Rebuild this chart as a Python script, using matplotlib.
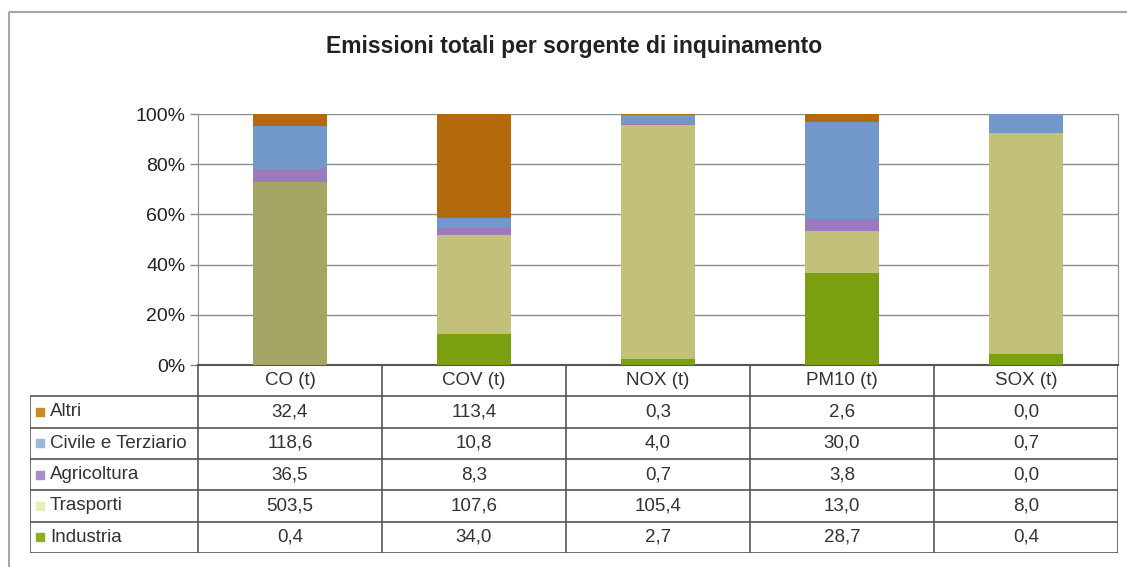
import numpy as np
import matplotlib.pyplot as plt
from matplotlib.patches import Rectangle

plt.rcParams["font.family"] = ["Liberation Sans", "DejaVu Sans"]

categories = ["CO (t)", "COV (t)", "NOX (t)", "PM10 (t)", "SOX (t)"]
# row order as in the table (top to bottom)
sources = ["Altri", "Civile e Terziario", "Agricoltura", "Trasporti", "Industria"]
altri = [32.4, 113.4, 0.3, 2.6, 0.0]
civile = [118.6, 10.8, 4.0, 30.0, 0.7]
agricoltura = [36.5, 8.3, 0.7, 3.8, 0.0]
trasporti = [503.5, 107.6, 105.4, 13.0, 8.0]
industria = [0.4, 34.0, 2.7, 28.7, 0.4]

colors = {
    "Altri": "#b36a0c",
    "Civile e Terziario": "#7198c8",
    "Agricoltura": "#9b7bbe",
    "Trasporti": "#c3c07a",
    "Industria": "#7aa010",
}
legend_colors = {
    "Altri": "#c98a2a",
    "Civile e Terziario": "#9bb8dc",
    "Agricoltura": "#a88ccb",
    "Trasporti": "#e8ecb8",
    "Industria": "#8cae2a",
}
# the CO transport block is drawn in a darker olive in the original
trasporti_bar_colors = ["#a5a566", "#c3c07a", "#c3c07a", "#c3c07a", "#c3c07a"]

W, H = 1127, 567
fig = plt.figure(figsize=(W / 100, H / 100), dpi=100, facecolor="white")

# outer frame (cut at right/bottom like the original)
fig.patches.append(Rectangle((9 / W, 1 - 12 / H), 1.2, -1.2, transform=fig.transFigure,
                             fill=False, edgecolor="#a6a6a6", linewidth=1.5))

fig.text(574 / W, 1 - 47 / H, "Emissioni totali per sorgente di inquinamento",
         ha="center", va="center", fontsize=16.5, fontweight="bold", color="#222222")

# bar axes
ax = fig.add_axes([198 / W, 1 - 365 / H, (1118 - 198) / W, (365 - 114) / H])
data = np.array([industria, trasporti, agricoltura, civile, altri])
totals = data.sum(axis=0)
shares = data / totals
x = np.arange(len(categories))
bottom = np.zeros(len(categories))
stack = ["Industria", "Trasporti", "Agricoltura", "Civile e Terziario", "Altri"]
for name, row in zip(stack, shares):
    c = trasporti_bar_colors if name == "Trasporti" else colors[name]
    ax.bar(x, row, 0.4, bottom=bottom, color=c, zorder=3)
    bottom += row

ax.set_xlim(-0.5, 4.5)
ax.set_ylim(0, 1)
ax.set_yticks(np.linspace(0, 1, 6))
ax.set_yticklabels(["0%", "20%", "40%", "60%", "80%", "100%"], fontsize=14, color="#222222")
ax.set_xticks([])
ax.tick_params(axis="y", length=6, color="#888888", width=1, pad=3)
ax.grid(axis="y", color="#8c8c8c", linewidth=1, zorder=0)
for s in ["left", "right", "top"]:
    ax.spines[s].set_color("#8c8c8c")
ax.spines["top"].set_visible(False)
ax.spines["bottom"].set_color("#555555")
ax.spines["bottom"].set_linewidth(1.5)

# data table
label_w = 168 / 184
tx = fig.add_axes([30 / W, 1 - 553 / H, (1118 - 30) / W, (553 - 365) / H])
tx.set_xlim(-0.5 - label_w, 4.5)
tx.set_ylim(6, 0)
tx.axis("off")
lc = "#555555"
tx.hlines(0, -0.5, 4.5, color=lc, linewidth=1.2)
for r in range(1, 7):
    tx.hlines(r, -0.5 - label_w, 4.5, color=lc, linewidth=1.2)
tx.vlines(-0.5 - label_w, 1, 6, color=lc, linewidth=1.2)
for b in np.arange(-0.5, 5.0, 1.0):
    tx.vlines(b, 0, 6, color=lc, linewidth=1.2)

tcolor = "#333333"
fs = 13.5
for i, cat in enumerate(categories):
    tx.text(i, 0.5, cat, ha="center", va="center", fontsize=fs, color=tcolor)

rows = [altri, civile, agricoltura, trasporti, industria]
for r, (name, vals) in enumerate(zip(sources, rows), start=1):
    tx.scatter([-0.5 - label_w + 10 / 184], [r + 0.5], marker="s", s=30,
               color=legend_colors[name], zorder=3)
    tx.text(-0.5 - label_w + 20 / 184, r + 0.5, name, ha="left", va="center",
            fontsize=fs, color=tcolor)
    for i, v in enumerate(vals):
        tx.text(i, r + 0.5, f"{v:.1f}".replace(".", ","), ha="center", va="center",
                fontsize=fs, color=tcolor)

fig.savefig("out.png", dpi=100, facecolor="white")
